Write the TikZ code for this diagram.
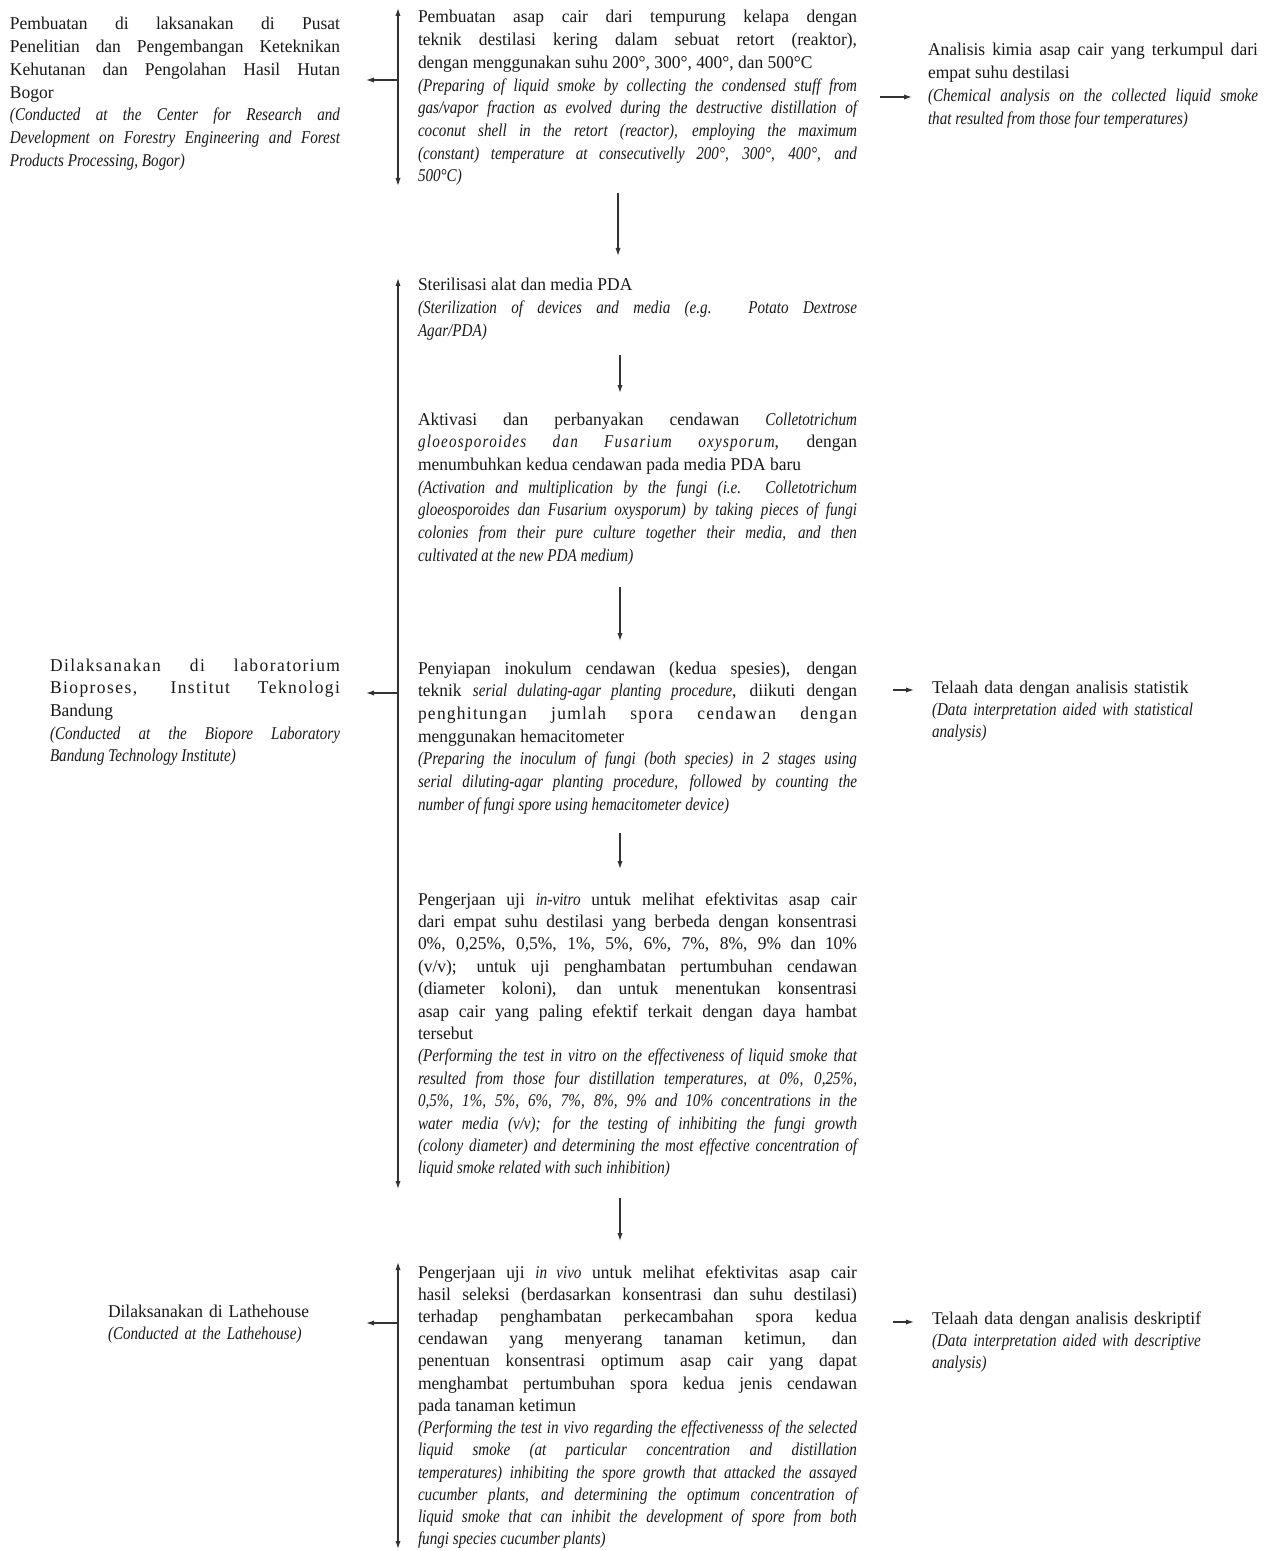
\documentclass[tikz,border=0pt]{standalone}
\usepackage{fontspec}
\setmainfont{Liberation Serif}[FakeStretch=0.97]
\newfontfamily\itfam{Liberation Serif}[FakeStretch=0.84]
\usetikzlibrary{arrows.meta}
\newcommand{\en}[1]{{\itfam\itshape #1}}
\newcommand{\lsp}[2]{{\addfontfeature{LetterSpace=#1}#2}}
\hyphenpenalty=10000
\tolerance=10000
\hbadness=10000
\begin{document}
\begin{tikzpicture}[x=0.5pt,y=-0.5pt,
  txt/.style={anchor=base west, inner sep=0pt, outer sep=0pt, text=black!90, yshift=-1.5pt,
    align=justify, font=\fontsize{9}{11.35}\selectfont},
  txtl/.style={anchor=base west, inner sep=0pt, outer sep=0pt, text=black!90, yshift=-1.5pt,
    align=left, font=\fontsize{9}{11.2}\selectfont},
  arr/.style={draw=black!80, line width=0.6pt, -{Latex[length=4pt,width=2.6pt]}},
  brk/.style={draw=black!80, line width=0.6pt, {Latex[length=4pt,width=2.6pt]}-{Latex[length=4pt,width=2.6pt]}}]
\useasboundingbox[fill=white] (0,0) rectangle (1266,1551);

% ---------- Group 1 ----------
\node[txt, text width=219.5pt] (m1) at (418,20) {%
Pembuatan asap cair dari tempurung kelapa dengan\linebreak
teknik destilasi kering dalam sebuat retort (reaktor),\linebreak
dengan menggunakan suhu 200°, 300°, 400°, dan 500°C\par
\en{(Preparing of liquid smoke by collecting the condensed stuff from\linebreak
gas/vapor fraction as evolved during the destructive distillation of\linebreak
coconut shell in the retort (reactor), employing the maximum\linebreak
(constant) temperature at consecutivelly 200°, 300°, 400°, and\linebreak
500°C)}};

\node[txt, text width=165pt] (l1) at (10,27) {%
Pembuatan di laksanakan di Pusat\linebreak
Penelitian dan Pengembangan Keteknikan\linebreak
Kehutanan dan Pengolahan Hasil Hutan\linebreak
Bogor\par
\en{(Conducted at the Center for Research and\linebreak
Development on Forestry Engineering and Forest\linebreak
Products Processing, Bogor)}};

\node[txt, text width=165pt] (r1) at (928,53) {%
Analisis kimia asap cair yang terkumpul dari\linebreak
empat suhu destilasi\par
\en{(Chemical analysis on the collected liquid smoke\linebreak
that resulted from those four temperatures)}};

\coordinate (b1t) at (398,8);
\coordinate (b1b) at (398,186);
\coordinate (b1m) at (398,80);
\coordinate (l1e) at (366,80);
\coordinate (r1s) at (880,97);
\coordinate (r1e) at (912,97);
\draw[brk] (b1t) -- (b1b);
\draw[arr] (b1m) -- (l1e);
\draw[arr] (r1s) -- (r1e);

\coordinate (d1s) at (618,193);
\coordinate (d1e) at (618,256);
\draw[arr] (d1s) -- (d1e);

% ---------- Group 2 ----------
\node[txt, text width=219.5pt] (m2) at (418,288) {%
Sterilisasi alat dan media PDA\par
\en{(Sterilization of devices and media (e.g. Potato Dextrose\linebreak
Agar/PDA)}};

\coordinate (d2s) at (620,355);
\coordinate (d2e) at (620,393);
\draw[arr] (d2s) -- (d2e);

\node[txt, text width=219.5pt] (m3) at (418,422) {%
Aktivasi dan perbanyakan cendawan \en{Colletotrichum}\linebreak
\en{\lsp{7}{gloeosporoides dan Fusarium oxysporum}}, dengan\linebreak
menumbuhkan kedua cendawan pada media PDA baru\par
\en{(Activation and multiplication by the fungi (i.e. Colletotrichum\linebreak
gloeosporoides dan Fusarium oxysporum) by taking pieces of fungi\linebreak
colonies from their pure culture together their media, and then\linebreak
cultivated at the new PDA medium)}};

\coordinate (d3s) at (620,587);
\coordinate (d3e) at (620,641);
\draw[arr] (d3s) -- (d3e);

\node[txt, text width=219.5pt] (m4) at (418,671) {%
Penyiapan inokulum cendawan (kedua spesies), dengan\linebreak
teknik \en{serial dulating-agar planting procedure}, diikuti dengan\linebreak
\lsp{7}{penghitungan jumlah spora cendawan dengan}\linebreak
menggunakan hemacitometer\par
\en{(Preparing the inoculum of fungi (both species) in 2 stages using\linebreak
serial diluting-agar planting procedure, followed by counting the\linebreak
number of fungi spore using hemacitometer device)}};

\coordinate (d4s) at (620,833);
\coordinate (d4e) at (620,869);
\draw[arr] (d4s) -- (d4e);

\node[txt, text width=219.5pt, font=\fontsize{9}{11.2}\selectfont] (m5) at (418,902) {%
Pengerjaan uji \en{in-vitro} untuk melihat efektivitas asap cair\linebreak
dari empat suhu destilasi yang berbeda dengan konsentrasi\linebreak
0\%, 0,25\%, 0,5\%, 1\%, 5\%, 6\%, 7\%, 8\%, 9\% dan 10\%\linebreak
(v/v); untuk uji penghambatan pertumbuhan cendawan\linebreak
(diameter koloni), dan untuk menentukan konsentrasi\linebreak
asap cair yang paling efektif terkait dengan daya hambat\linebreak
tersebut\par
\en{(Performing the test in vitro on the effectiveness of liquid smoke that\linebreak
resulted from those four distillation temperatures, at 0\%, 0,25\%,\linebreak
0,5\%, 1\%, 5\%, 6\%, 7\%, 8\%, 9\% and 10\% concentrations in the\linebreak
water media (v/v); for the testing of inhibiting the fungi growth\linebreak
(colony diameter) and determining the most effective concentration of\linebreak
liquid smoke related with such inhibition)}};

\node[txt, text width=145pt] (l2) at (50,668) {%
\lsp{8}{Dilaksanakan di laboratorium}\linebreak
\lsp{8}{Bioproses, Institut Teknologi}\linebreak
Bandung\par
\en{(Conducted at the Biopore Laboratory\linebreak
Bandung Technology Institute)}};

\node[txtl, text width=160pt] (r2) at (932,690) {%
Telaah data dengan analisis statistik\\
\en{(Data interpretation aided with statistical}\\
\en{analysis)}};

\coordinate (b2t) at (398,278);
\coordinate (b2b) at (398,1189);
\coordinate (b2m) at (398,693);
\coordinate (l2e) at (366,693);
\coordinate (r2s) at (893,690);
\coordinate (r2e) at (914,690);
\draw[brk] (b2t) -- (b2b);
\draw[arr] (b2m) -- (l2e);
\draw[arr] (r2s) -- (r2e);

\coordinate (d5s) at (620,1198);
\coordinate (d5e) at (620,1241);
\draw[arr] (d5s) -- (d5e);

% ---------- Group 3 ----------
\node[txt, text width=219.5pt, font=\fontsize{9}{11.12}\selectfont] (m6) at (418,1275) {%
Pengerjaan uji \en{in vivo} untuk melihat efektivitas asap cair\linebreak
hasil seleksi (berdasarkan konsentrasi dan suhu destilasi)\linebreak
terhadap penghambatan perkecambahan spora kedua\linebreak
cendawan yang menyerang tanaman ketimun, dan\linebreak
penentuan konsentrasi optimum asap cair yang dapat\linebreak
menghambat pertumbuhan spora kedua jenis cendawan\linebreak
pada tanaman ketimun\par
\en{(Performing the test in vivo regarding the effectivenesss of the selected\linebreak
liquid smoke (at particular concentration and distillation\linebreak
temperatures) inhibiting the spore growth that attacked the assayed\linebreak
cucumber plants, and determining the optimum concentration of\linebreak
liquid smoke that can inhibit the development of spore from both\linebreak
fungi species cucumber plants)}};

\node[txtl, text width=120pt] (l3) at (108,1314) {%
Dilaksanakan di Lathehouse\\
\en{(Conducted at the Lathehouse)}};

\node[txtl, text width=160pt] (r3) at (932,1321) {%
Telaah data dengan analisis deskriptif\\
\en{(Data interpretation aided with descriptive}\\
\en{analysis)}};

\coordinate (b3t) at (398,1262);
\coordinate (b3b) at (398,1549);
\coordinate (b3m) at (398,1323);
\coordinate (l3e) at (366,1323);
\coordinate (r3s) at (893,1322);
\coordinate (r3e) at (914,1322);
\draw[brk] (b3t) -- (b3b);
\draw[arr] (b3m) -- (l3e);
\draw[arr] (r3s) -- (r3e);
\end{tikzpicture}
\end{document}
